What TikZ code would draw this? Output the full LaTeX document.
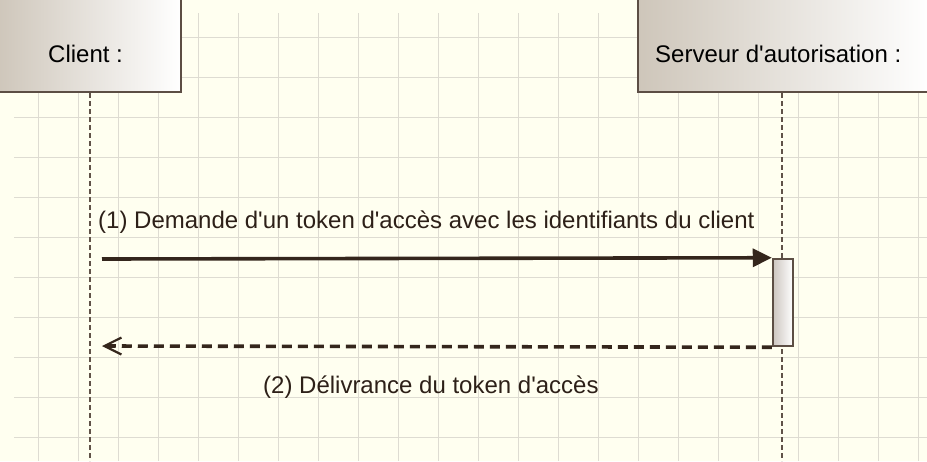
\documentclass[tikz,border=0pt]{standalone}
\usepackage{fontspec}
\setmainfont{Liberation Sans}
\usetikzlibrary{arrows.meta}
\definecolor{bgc}{RGB}{255,255,240}
\definecolor{gridc}{RGB}{222,220,210}
\definecolor{boxborder}{RGB}{92,78,68}
\definecolor{boxleft}{RGB}{206,198,186}
\definecolor{actleft}{RGB}{205,198,192}
\definecolor{lifec}{RGB}{96,82,72}
\definecolor{arrowc}{RGB}{52,38,28}
\definecolor{labelc}{RGB}{45,32,24}
\tikzset{
  lifebox/.style={draw=boxborder, line width=2pt, left color=boxleft, right color=white, inner sep=0pt},
  actbox/.style={draw=boxborder, line width=2.5pt, left color=actleft, right color=white, inner sep=0pt, minimum width=20pt, minimum height=87pt},
  headtext/.style={font=\fontsize{24}{28}\selectfont, text=black, inner sep=0pt, anchor=base west},
  msgtext/.style={font=\fontsize{24}{28}\selectfont, text=labelc, inner sep=0pt, anchor=base west},
  lifeline/.style={draw=lifec, line width=2pt, dash pattern=on 5pt off 3pt},
  callmsg/.style={draw=arrowc, line width=3.6pt, -{Triangle[length=19pt,width=18pt]}},
  replymsg/.style={draw=arrowc, line width=3.6pt, dash pattern=on 10pt off 6pt, -{Straight Barb[length=17pt,width=17pt,line width=2.2pt]}}
}
\begin{document}
\begin{tikzpicture}[x=1pt,y=-1pt]
\useasboundingbox (0,0) rectangle (927,461);
\clip (0,0) rectangle (927,461);
\fill[bgc] (0,0) rectangle (927,461);
% grid
\foreach \gx in {38,78,...,918} \draw[gridc, line width=1pt] (\gx,13) -- (\gx,461);
\foreach \gy in {37,77,...,437} \draw[gridc, line width=1pt] (14,\gy) -- (927,\gy);
% lifeline heads
\node[lifebox, minimum width=184pt, minimum height=96pt] (client) at (89,44) {};
\node[lifebox, minimum width=294pt, minimum height=96pt] (server) at (785,44) {};
\node[headtext] (clientlbl) at (48,62) {Client :};
\node[headtext] (serverlbl) at (655,62) {Serveur d\textquotesingle autorisation :};
% lifelines
\coordinate (ctop) at (90,93);
\coordinate (cbot) at (90,461);
\coordinate (stop) at (782,93);
\coordinate (sbot) at (782,461);
\draw[lifeline] (ctop) -- (cbot);
\draw[lifeline] (stop) -- (sbot);
% activation
\node[actbox] (act) at (783,302.5) {};
% messages
\coordinate (m1start) at (102,259);
\coordinate (m2end) at (102,346);
\draw[callmsg] (m1start) -- (act.north west);
\draw[replymsg] (act.south west) -- (m2end);
\node[msgtext] (lbl1) at (98,228) {(1) Demande d\textquotesingle un token d\textquotesingle accès avec les identifiants du client};
\node[msgtext] (lbl2) at (263,393) {(2) Délivrance du token d\textquotesingle accès};
\end{tikzpicture}
\end{document}
